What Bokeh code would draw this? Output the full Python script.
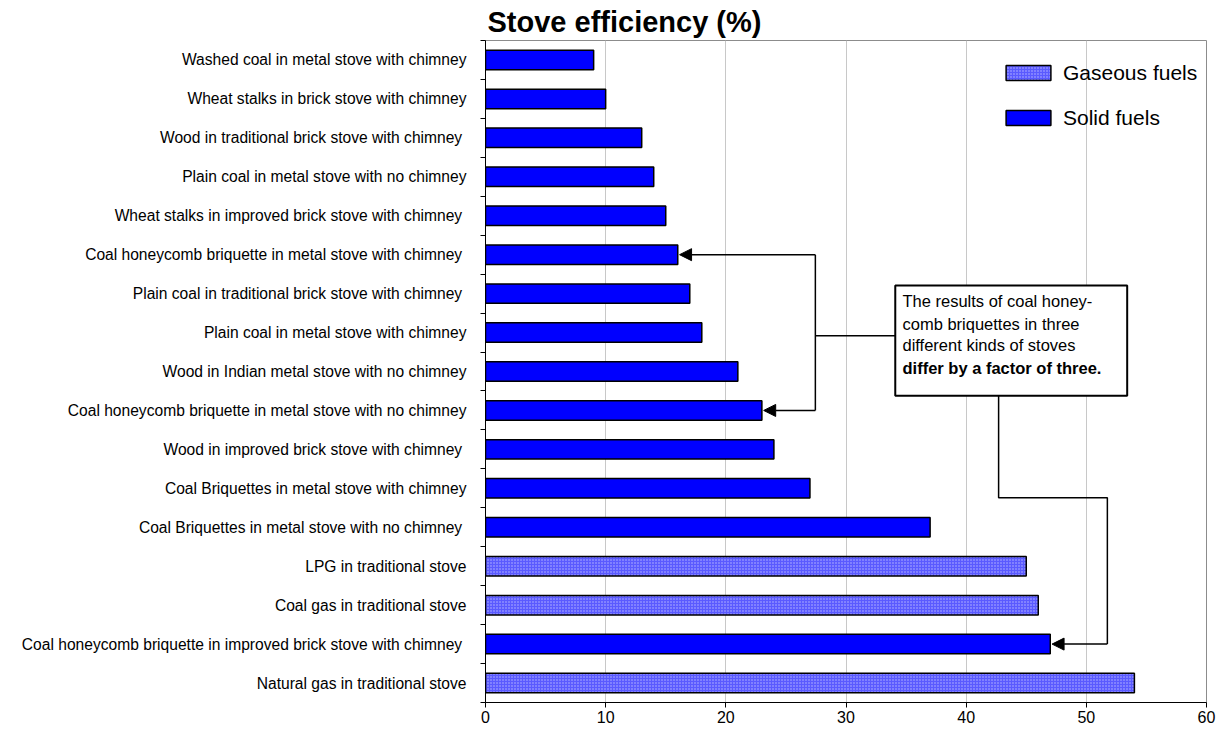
from bokeh.plotting import figure
from bokeh.models import (ColumnDataSource, FixedTicker, Legend, LegendItem, BoxAnnotation,
                          Label, Arrow, NormalHead, Range1d)
from bokeh.embed import file_html
from bokeh.resources import INLINE

# Data (top to bottom as shown)
categories = [
    "Washed coal in metal stove with chimney",
    "Wheat stalks in brick stove with chimney",
    "Wood in traditional brick stove with chimney ",
    "Plain coal in metal stove with no chimney",
    "Wheat stalks in improved brick stove with chimney ",
    "Coal honeycomb briquette in metal stove with chimney ",
    "Plain coal in traditional brick stove with chimney ",
    "Plain coal in metal stove with chimney",
    "Wood in Indian metal stove with no chimney",
    "Coal honeycomb briquette in metal stove with no chimney",
    "Wood in improved brick stove with chimney ",
    "Coal Briquettes in metal stove with chimney",
    "Coal Briquettes in metal stove with no chimney ",
    "LPG in traditional stove",
    "Coal gas in traditional stove",
    "Coal honeycomb briquette in improved brick stove with chimney ",
    "Natural gas in traditional stove",
]
efficiency = [9, 10, 13, 14, 15, 16, 17, 18, 21, 23, 24, 27, 37, 45, 46, 47, 54]
fuel_type = ["Solid"] * 13 + ["Gaseous", "Gaseous", "Solid", "Gaseous"]
x_ticks = [0, 10, 20, 30, 40, 50, 60]

n = len(categories)
ypos = [n - i - 0.5 for i in range(n)]

def subset(kind):
    idx = [i for i in range(n) if fuel_type[i] == kind]
    return ColumnDataSource(dict(y=[ypos[i] for i in idx],
                                 v=[efficiency[i] for i in idx],
                                 name=[categories[i] for i in idx]))

src_gas = subset("Gaseous")
src_solid = subset("Solid")

p = figure(width=1216, height=730, output_backend="svg", toolbar_location=None,
           x_range=Range1d(0, 60), y_range=Range1d(0, n),
           min_border_left=485, min_border_right=10, min_border_bottom=28, min_border_top=0)

p.title.text = "Stove efficiency (%)"
p.title.text_font = "Liberation Sans"
p.title.text_font_size = "29px"
p.title.text_font_style = "bold"
p.title.text_color = "black"
p.title.align = "left"
p.title.offset = 2
p.title.standoff = 6

r_gas = p.hbar(y="y", right="v", left=0, height=0.5, source=src_gas,
               fill_color="#5a5aff", hatch_pattern="dot", hatch_color="white",
               hatch_scale=3, hatch_weight=1, hatch_alpha=0.6,
               line_color="black", line_width=1.5)
r_solid = p.hbar(y="y", right="v", left=0, height=0.5, source=src_solid,
                 fill_color="#0000ff", line_color="black", line_width=1.5)

# axes
p.yaxis.ticker = FixedTicker(ticks=ypos, minor_ticks=list(range(n + 1)))
p.yaxis.major_label_overrides = {y: c for y, c in zip(ypos, categories)}
p.yaxis.major_tick_out = 0
p.yaxis.major_tick_in = 0
p.yaxis.minor_tick_out = 5
p.yaxis.minor_tick_in = 0
p.yaxis.major_label_standoff = 14
p.yaxis.major_label_text_font = "Liberation Sans"
p.yaxis.major_label_text_font_size = "15.6px"
p.yaxis.major_label_text_color = "black"
p.yaxis.axis_line_color = "black"
p.yaxis.minor_tick_line_color = "black"

p.xaxis.ticker = FixedTicker(ticks=x_ticks)
p.xaxis.major_tick_out = 5
p.xaxis.major_tick_in = 0
p.xaxis.minor_tick_line_color = None
p.xaxis.major_label_text_font = "Liberation Sans"
p.xaxis.major_label_text_font_size = "16px"
p.xaxis.major_label_text_color = "black"
p.xaxis.major_label_standoff = 3
p.xaxis.axis_line_color = "black"

p.ygrid.grid_line_color = None
p.xgrid.ticker = FixedTicker(ticks=x_ticks)
p.xgrid.grid_line_color = "#c8c8c8"
p.outline_line_color = "#8c8c8c"

# legend
legend = Legend(items=[LegendItem(label="Gaseous fuels", renderers=[r_gas]),
                       LegendItem(label="Solid fuels", renderers=[r_solid])],
                location=(515, 572), orientation="vertical")
legend.border_line_color = None
legend.background_fill_alpha = 0
legend.padding = 0
legend.margin = 0
legend.glyph_width = 56
legend.glyph_height = 19
legend.label_height = 25
legend.spacing = 20
legend.label_standoff = 7
legend.label_text_font = "Liberation Sans"
legend.label_text_font_size = "21px"
legend.label_text_color = "black"
p.add_layout(legend, "center")

# annotation connectors
head = dict(size=12, fill_color="black", line_color="black")
conn_x = 27.45
box_l, box_r, box_t, box_b = 34.1, 53.4, 10.71, 7.88
r1, r2, r3 = ypos[5], ypos[9], ypos[15]

p.line([conn_x, conn_x], [r1, r2], line_color="black", line_width=1.5)
p.line([conn_x, box_l], [9.42, 9.42], line_color="black", line_width=1.5)
p.add_layout(Arrow(end=NormalHead(**head), x_start=conn_x, y_start=r1,
                   x_end=efficiency[5] + 0.15, y_end=r1, line_width=1.5))
p.add_layout(Arrow(end=NormalHead(**head), x_start=conn_x, y_start=r2,
                   x_end=efficiency[9] + 0.15, y_end=r2, line_width=1.5))
p.line([42.7, 42.7, 51.75, 51.75], [box_b, 5.26, 5.26, r3],
       line_color="black", line_width=1.5)
p.add_layout(Arrow(end=NormalHead(**head), x_start=51.75, y_start=r3,
                   x_end=efficiency[15] + 0.15, y_end=r3, line_width=1.5))

p.add_layout(BoxAnnotation(left=box_l, right=box_r, top=box_t, bottom=box_b,
                           fill_color="white", fill_alpha=1,
                           line_color="black", line_width=2, line_alpha=1))

lines = ["The results of coal honey-", "comb briquettes in three",
         "different kinds of stoves", "differ by a factor of three."]
ly = [10.30, 9.73, 9.17, 8.60]
for i, (t, yy) in enumerate(zip(lines, ly)):
    p.add_layout(Label(x=34.7, y=yy, text=t, text_baseline="middle",
                       text_font="Liberation Sans", text_font_size="16.5px",
                       text_font_style="bold" if i == 3 else "normal",
                       text_color="black"))

open("out.html", "w").write(file_html(p, INLINE))
